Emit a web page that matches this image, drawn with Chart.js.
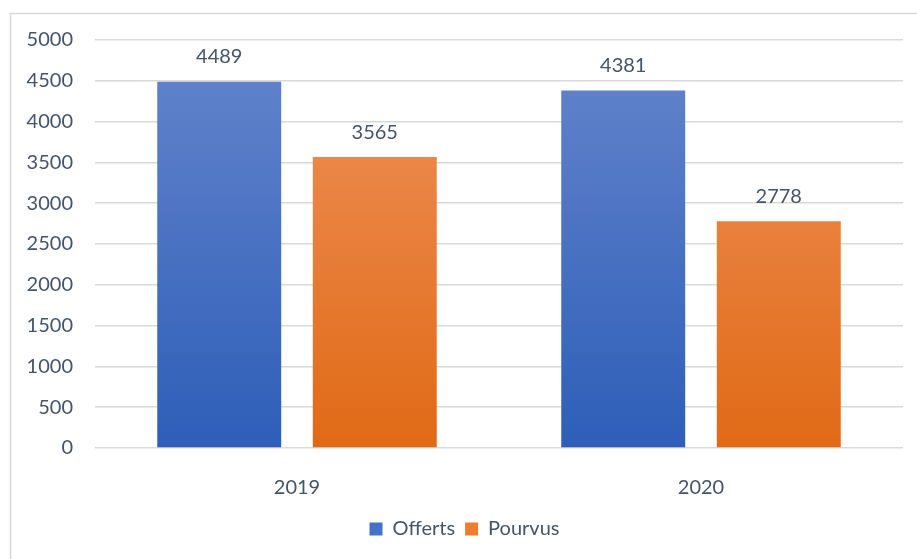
<!DOCTYPE html>
<html><head><meta charset="utf-8">
<script src="https://cdn.jsdelivr.net/npm/chart.js@4/dist/chart.umd.min.js"></script>
<style>html,body{margin:0;padding:0;background:#fff;}#wrap{width:917px;height:559px;position:relative;}</style>
</head><body><div id="wrap"><canvas id="c" width="917" height="559"></canvas></div>
<script>
const categories = ["2019", "2020"];
const offerts = [4489, 4381];
const pourvus = [3565, 2778];
const seriesNames = ["Offerts", "Pourvus"];
const yTicks = [0, 500, 1000, 1500, 2000, 2500, 3000, 3500, 4000, 4500, 5000];

const FONT = "'Lato', 'Open Sans', sans-serif";
const TXT = "#44546A";

function grad(ctx, top, bottom) {
  const ch = ctx.chart, a = ch.chartArea;
  if (!a) return bottom;
  const g = ch.ctx.createLinearGradient(0, a.top, 0, a.bottom);
  g.addColorStop(0, top); g.addColorStop(1, bottom);
  return g;
}

const framePlugin = {
  id: 'frame',
  beforeDraw(chart) {
    const c = chart.ctx;
    c.save(); c.strokeStyle = '#D9D9D9'; c.lineWidth = 1.5;
    c.strokeRect(10.5, 13.5, 1000, 1000);
    c.restore();
  }
};
const labelPlugin = {
  id: 'vals',
  afterDatasetsDraw(chart) {
    const c = chart.ctx;
    c.save(); c.font = "20px " + FONT; c.fillStyle = TXT;
    c.textAlign = 'center'; c.textBaseline = 'middle';
    chart.data.datasets.forEach((ds, i) => {
      chart.getDatasetMeta(i).data.forEach((bar, j) => {
        c.fillText(String(ds.data[j]), bar.x, bar.y - 25);
      });
    });
    c.restore();
  }
};

new Chart(document.getElementById('c'), {
  type: 'bar',
  data: {
    labels: categories,
    datasets: [
      { label: seriesNames[0], data: offerts, backgroundColor: ctx => grad(ctx, '#6585CC', '#2E5EB8'), legendColor: '#4472C4' },
      { label: seriesNames[1], data: pourvus, backgroundColor: ctx => grad(ctx, '#F0925C', '#E06A16'), legendColor: '#ED7D31' }
    ]
  },
  options: {
    responsive: false, animation: false,
    layout: { padding: { left: 26, right: 14, top: 40, bottom: 10 } },
    datasets: { bar: { categoryPercentage: 0.77, barPercentage: 0.797 } },
    plugins: {
      legend: {
        position: 'bottom',
        labels: {
          font: { family: FONT, size: 20 }, color: TXT, boxWidth: 13, boxHeight: 13, padding: 10,
          generateLabels(chart) {
            return chart.data.datasets.map((d, i) => ({ text: d.label, fillStyle: d.legendColor, strokeStyle: d.legendColor, lineWidth: 0, datasetIndex: i, fontColor: TXT }));
          }
        }
      },
      tooltip: { enabled: false }
    },
    scales: {
      x: {
        grid: { display: false }, border: { display: false },
        ticks: { font: { family: FONT, size: 20 }, color: TXT, padding: 20 },
        afterFit(s) { s.height = 61; }
      },
      y: {
        min: 0, max: 5000,
        afterBuildTicks(s) { s.ticks = yTicks.map(v => ({ value: v })); },
        grid: { color: '#D9D9D9', lineWidth: 1.5, drawTicks: false }, border: { display: false },
        ticks: { font: { family: FONT, size: 20 }, color: TXT, padding: 22, callback: v => String(v) },
        afterFit(s) { s.width = 69; }
      }
    }
  },
  plugins: [framePlugin, labelPlugin]
});
</script></body></html>
